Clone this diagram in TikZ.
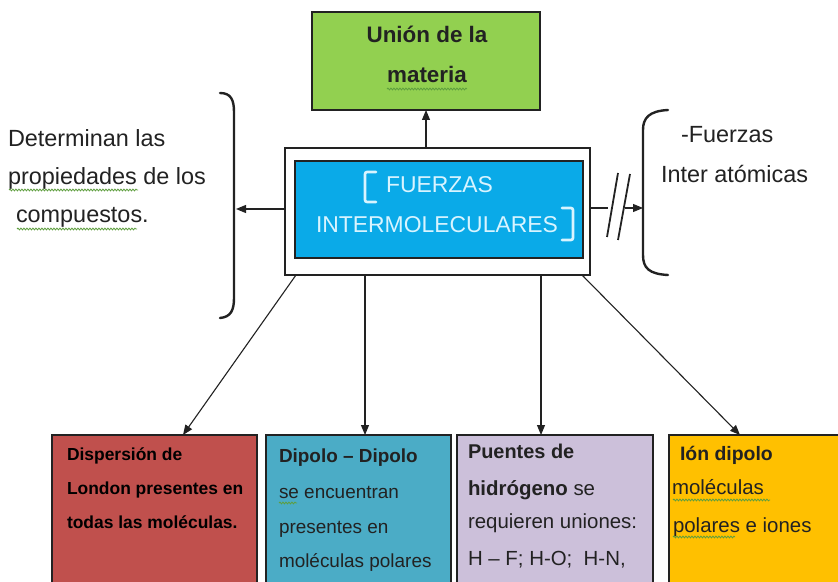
\documentclass[tikz,border=0pt]{standalone}
\usepackage{fontspec}
\setmainfont{Liberation Sans}
\usetikzlibrary{arrows.meta,decorations.pathmorphing}
\definecolor{gbox}{HTML}{92D050}
\definecolor{ibox}{HTML}{0AAAE8}
\definecolor{itxt}{HTML}{D8F4FF}
\definecolor{rbox}{HTML}{C0504D}
\definecolor{bbox}{HTML}{4BACC6}
\definecolor{lbox}{HTML}{CCC0DA}
\definecolor{ybox}{HTML}{FFC000}
\definecolor{ink}{HTML}{222222}
\definecolor{sq}{HTML}{5E9E3E}
\tikzset{
  boxshape/.style={draw=ink, line width=1.2bp, inner sep=0pt, outer sep=0pt},
  txt/.style={inner sep=0pt, outer sep=0pt, anchor=base west, text=ink},
  arr/.style={draw=ink, line width=1.1bp, -{Triangle[length=10bp,width=8bp]}},
  brk/.style={draw=ink, line width=2.4bp, line cap=round},
  ibrk/.style={draw=itxt, line width=2.6bp, line cap=round, line join=round, rounded corners=2bp},
  squig/.style={draw=sq, line width=0.8bp, decorate, decoration={snake, amplitude=0.9bp, segment length=3bp}},
  big/.style={font=\fontsize{23.5}{27}\selectfont},
  mid/.style={font=\fontsize{19}{23}\selectfont},
  wide/.style={font=\fontsize{20.5}{24}\selectfont},
}
\begin{document}
\begin{tikzpicture}[x=1bp,y=-1bp]
\useasboundingbox (0,0) rectangle (838,582);
\clip (0,0) rectangle (838,582);
\fill[white] (0,0) rectangle (838,582);

% boxes
\node[boxshape, fill=gbox, minimum width=228bp, minimum height=98bp] (green) at (426,61) {};
\node[boxshape, fill=white, minimum width=305bp, minimum height=127bp] (outer) at (437.5,211.5) {};
\node[boxshape, fill=ibox, minimum width=288bp, minimum height=97bp] (inner) at (439,209.5) {};
\node[boxshape, fill=rbox, minimum width=205bp, minimum height=165bp] (box1) at (154.5,517.5) {};
\node[boxshape, fill=bbox, minimum width=185bp, minimum height=165bp] (box2) at (358.5,517.5) {};
\node[boxshape, fill=lbox, minimum width=196bp, minimum height=165bp] (box3) at (555,517.5) {};
\node[boxshape, fill=ybox, minimum width=191bp, minimum height=165bp] (box4) at (764.5,517.5) {};

% green text
\node[txt, anchor=base, font=\bfseries\fontsize{22.5}{26}\selectfont] (g1) at (427,43) {Unión de la};
\node[txt, anchor=base, font=\bfseries\fontsize{22.5}{26}\selectfont] (g2) at (427,83) {materia};
\draw[squig] (387,89) -- (467,89);

% inner text
\node[txt, text=itxt, font=\fontsize{23}{27}\selectfont] (f1) at (386,193) {FUERZAS};
\node[txt, text=itxt, font=\fontsize{23}{27}\selectfont] (f2) at (316,233) {INTERMOLECULARES};
\draw[ibrk] (376,172) -- (365,172) -- (365,202) -- (376,202);
\draw[ibrk] (562,208) -- (573,208) -- (573,240) -- (562,240);

% left text and bracket
\node[txt, big] (l1) at (8,147) {Determinan las};
\node[txt, big] (l2) at (8,185) {propiedades de los};
\node[txt, big] (l3) at (16,223) {compuestos.};
\draw[squig] (9,190) -- (138,190);
\draw[squig] (17,229) -- (137,229);
\draw[brk] (220,93) .. controls (231,93) and (234,100) .. (234,112) -- (234,298) .. controls (234,310) and (231,317) .. (220,318);
\coordinate (lb) at (236,209);

% right text and bracket
\node[txt, big] (r1) at (681,143) {-Fuerzas};
\node[txt, big] (r2) at (661,183) {Inter atómicas};
\draw[brk] (668,110) .. controls (649,111) and (643,118) .. (643,130) -- (643,255) .. controls (643,268) and (649,274) .. (668,275);
\coordinate (rb) at (643,208);

% connectors
\draw[arr] (green.south |- outer.north) -- (green.south);
\draw[arr] (outer.west |- lb) -- (lb);
\draw[draw=ink, line width=1.1bp] (outer.east |- rb) -- ([xshift=-35bp]rb);
\draw[arr] ([xshift=-18bp]rb) -- (rb);
\draw[draw=ink, line width=1.8bp] (607,237) -- (618,173);
\draw[draw=ink, line width=1.8bp] (618,240) -- (630,174);
\draw[arr] ([xshift=11bp]outer.south west) -- ([xshift=28.5bp]box1.north);
\draw[arr] ([xshift=6.5bp]box2.north |- outer.south) -- ([xshift=6.5bp]box2.north);
\draw[arr] ([xshift=-14bp]box3.north |- outer.south) -- ([xshift=-14bp]box3.north);
\draw[arr] ([xshift=-8bp]outer.south east) -- ([xshift=-24.5bp]box4.north);

% box 1 text
\node[txt, text=black, font=\bfseries\fontsize{17.5}{21}\selectfont] (b11) at (67,460) {Dispersión de};
\node[txt, text=black, font=\bfseries\fontsize{17.5}{21}\selectfont] (b12) at (67,494) {London presentes en};
\node[txt, text=black, font=\bfseries\fontsize{17.5}{21}\selectfont] (b13) at (67,528) {todas las moléculas.};

% box 2 text
\node[txt, font=\bfseries\fontsize{19}{23}\selectfont] (b21) at (279,462) {Dipolo – Dipolo};
\node[txt, mid] (b22) at (279,498) {se encuentran};
\node[txt, mid] (b23) at (279,533) {presentes en};
\node[txt, mid] (b24) at (279,567) {moléculas polares};
\draw[squig] (279,503) -- (297,503);

% box 3 text
\node[txt, font=\bfseries\fontsize{20}{23}\selectfont] (b31) at (468,458) {Puentes de};
\node[txt, wide] (b32) at (468,495) {\textbf{hidrógeno} se};
\node[txt, wide] (b33) at (468,528) {requieren uniones:};
\node[txt, wide] (b34) at (468,565) {H – F; H-O;\ \ H-N,};

% box 4 text
\node[txt, font=\bfseries\fontsize{19.5}{23}\selectfont] (b41) at (680,460) {Ión dipolo};
\node[txt, wide] (b42) at (672,494) {moléculas};
\node[txt, wide] (b43) at (673,532) {polares e iones};
\draw[squig] (673,500) -- (770,500);
\draw[squig] (673,537) -- (735,537);
\end{tikzpicture}
\end{document}
